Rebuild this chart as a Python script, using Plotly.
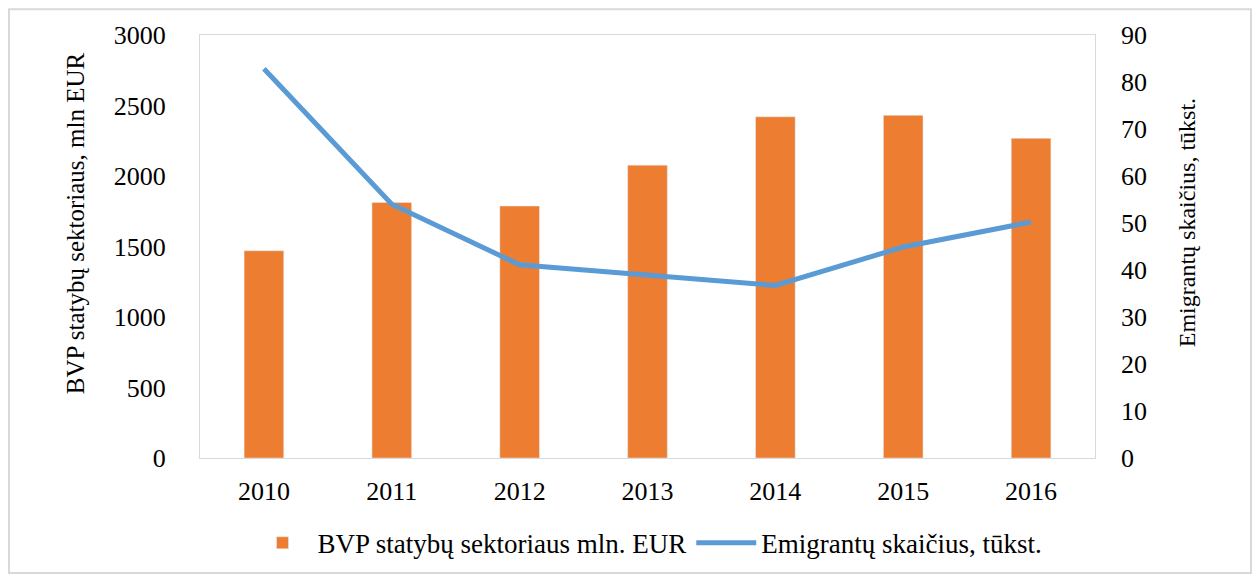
import plotly.graph_objects as go

years = ["2010", "2011", "2012", "2013", "2014", "2015", "2016"]
bvp = [1470, 1812, 1787, 2077, 2420, 2430, 2267]
emigrants = [82.8, 54.0, 41.1, 38.9, 36.7, 44.9, 50.2]

bar_name = "BVP statybų sektoriaus mln. EUR"
line_name = "Emigrantų skaičius, tūkst."
left_title = "BVP statybų sektoriaus, mln EUR"
right_title = "Emigrantų skaičius, tūkst."

FONT = "Times New Roman, Liberation Serif, serif"
OFF = 8  # page body margin
W, H = 1260 - OFF, 580 - OFF
# reference pixel positions of the plot area
PL, PR, PT, PB = 200, 1095, 35, 462
L, R, T, B = PL - OFF, W - (PR - OFF), PT - OFF, H - (PB - OFF)

fig = go.Figure()
fig.add_trace(go.Bar(x=years, y=bvp, name=bar_name, marker=dict(color="#ED7D31"),
                     width=0.31, yaxis="y"))
fig.add_trace(go.Scatter(x=years, y=emigrants, name=line_name, mode="lines",
                         line=dict(color="#5B9BD5", width=5), yaxis="y2"))

pw = PR - PL
ph = PB - PT
def px_x(p):
    return (p - PL) / pw
def px_y(p):
    return (PB - p) / ph

fig.update_layout(
    width=W, height=H,
    margin=dict(l=L, r=R, t=T, b=B),
    paper_bgcolor="white", plot_bgcolor="white",
    font=dict(family=FONT, size=25, color="#000000"),
    showlegend=True,
    legend=dict(orientation="h", x=0.5, xanchor="center", y=px_y(548), yanchor="middle",
                font=dict(family=FONT, size=27), itemwidth=60, traceorder="normal"),
    xaxis=dict(showgrid=False, showline=True, linecolor="#d9d9d9", mirror=True,
               ticks="", tickfont=dict(family=FONT, size=26), ticklabelstandoff=10),
    yaxis=dict(range=[0, 3000], dtick=500, showgrid=False, showline=True,
               linecolor="#d9d9d9", mirror=True, ticks="", zeroline=False,
               tickfont=dict(family=FONT, size=26), ticklabelstandoff=28),
    yaxis2=dict(range=[0, 90], dtick=10, overlaying="y", side="right", showgrid=False,
                showline=False, ticks="", zeroline=False, tickfont=dict(family=FONT, size=26),
                ticklabelstandoff=25),
)

fig.add_annotation(text=left_title, xref="paper", yref="paper", x=px_x(75), y=px_y(225),
                   xanchor="center", yanchor="middle", textangle=-90, showarrow=False,
                   font=dict(family=FONT, size=25, color="#000000"))
fig.add_annotation(text=right_title, xref="paper", yref="paper", x=px_x(1187), y=px_y(225),
                   xanchor="center", yanchor="middle", textangle=-90, showarrow=False,
                   font=dict(family=FONT, size=24, color="#000000"))

fig.add_shape(type="rect", xref="paper", yref="paper",
              x0=px_x(9), x1=px_x(1251), y0=px_y(578), y1=px_y(9),
              line=dict(color="#d9d9d9", width=2), fillcolor="rgba(0,0,0,0)", layer="below")

fig.write_html("out.html")
